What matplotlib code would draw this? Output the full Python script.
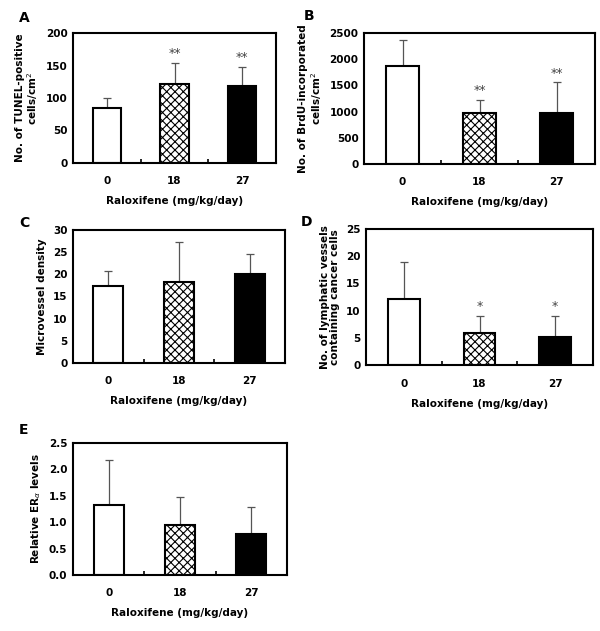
import numpy as np
import matplotlib
matplotlib.use('Agg')
import matplotlib.pyplot as plt

plt.rcParams['font.family'] = ['DejaVu Sans']
plt.rcParams['hatch.color'] = '#777777'
plt.rcParams['hatch.linewidth'] = 0.8

doses = ['0', '18', '27']

tunel_mean = [85, 122, 119]
tunel_err = [15, 32, 29]
tunel_sig = ['', '**', '**']

brdu_mean = [1875, 976, 969]
brdu_err = [490, 248, 587]
brdu_sig = ['', '**', '**']

mvd_mean = [17.3, 18.2, 20.1]
mvd_err = [3.5, 9.2, 4.5]
mvd_sig = ['', '', '']

lymph_mean = [12.2, 5.9, 5.2]
lymph_err = [6.8, 3.1, 3.8]
lymph_sig = ['', '*', '*']

era_mean = [1.32, 0.94, 0.77]
era_err = [0.86, 0.53, 0.51]
era_sig = ['', '', '']

W, H = 600, 631
fig = plt.figure(figsize=(W / 100, H / 100), dpi=100)


def px_axes(l, t, r, b):
    return fig.add_axes([l / W, 1 - b / H, (r - l) / W, (b - t) / H])


def panel(box, mean, err, sig, ymax, ystep, ylabel, letter, letter_xy, fmt='%d'):
    ax = px_axes(*box)
    x = np.arange(3) + 0.5
    faces = ['white', 'white', 'black']
    hatches = [None, 'xxxx', None]
    for i in range(3):
        ax.bar(x[i], mean[i], width=0.42, color=faces[i], edgecolor='black',
               linewidth=1.5, hatch=hatches[i], zorder=2)
    ax.errorbar(x, mean, yerr=[np.zeros(3), err], fmt='none', ecolor='#555555',
                elinewidth=0.9, capsize=3, capthick=0.9, zorder=1)
    for i in range(3):
        if sig[i]:
            ax.text(x[i], mean[i] + err[i] + ymax * 0.02, sig[i], ha='center',
                    va='bottom', fontsize=9, color='#444444')
    ax.set_xlim(0, 3)
    ax.set_ylim(0, ymax)
    ticks = np.arange(0, ymax + ystep / 2, ystep)
    ax.set_yticks(ticks)
    ax.set_yticklabels([fmt % t for t in ticks], fontsize=7.5, fontweight='bold')
    ax.set_xticks([1, 2])
    ax.set_xticklabels([])
    ax.tick_params(axis='x', direction='in', length=3, width=1.2)
    ax.tick_params(axis='y', length=0, pad=4)
    for s in ax.spines.values():
        s.set_linewidth(1.5)
    for i in range(3):
        ax.text(x[i], -0.1, doses[i], transform=ax.get_xaxis_transform(),
                ha='center', va='top', fontsize=7.5, fontweight='bold')
    ax.text(1.5, -0.25, 'Raloxifene (mg/kg/day)',
            transform=ax.get_xaxis_transform(), ha='center', va='top',
            fontsize=7.5, fontweight='bold')
    ax.set_ylabel(ylabel, fontsize=7.5, fontweight='bold', linespacing=1.05)
    fig.text(letter_xy[0] / W, 1 - letter_xy[1] / H, letter, fontsize=10,
             fontweight='bold', ha='center', va='center')
    return ax


panel((73, 33, 276, 163), tunel_mean, tunel_err, tunel_sig, 200, 50,
      'No. of TUNEL-positive\ncells/cm$^2$', 'A', (24, 18))
panel((364, 33, 595, 164), brdu_mean, brdu_err, brdu_sig, 2500, 500,
      'No. of BrdU-incorporated\ncells/cm$^2$', 'B', (309, 16))
panel((73, 230, 285, 363), mvd_mean, mvd_err, mvd_sig, 30, 5,
      'Microvessel density', 'C', (24, 223))
panel((366, 229, 593, 365), lymph_mean, lymph_err, lymph_sig, 25, 5,
      'No. of lymphatic vessels\ncontaining cancer cells', 'D', (307, 222))
panel((73, 443, 287, 575), era_mean, era_err, era_sig, 2.5, 0.5,
      r'Relative ER$_\alpha$ levels', 'E', (24, 430), fmt='%.1f')

fig.savefig('out.png', dpi=100, facecolor='white')
